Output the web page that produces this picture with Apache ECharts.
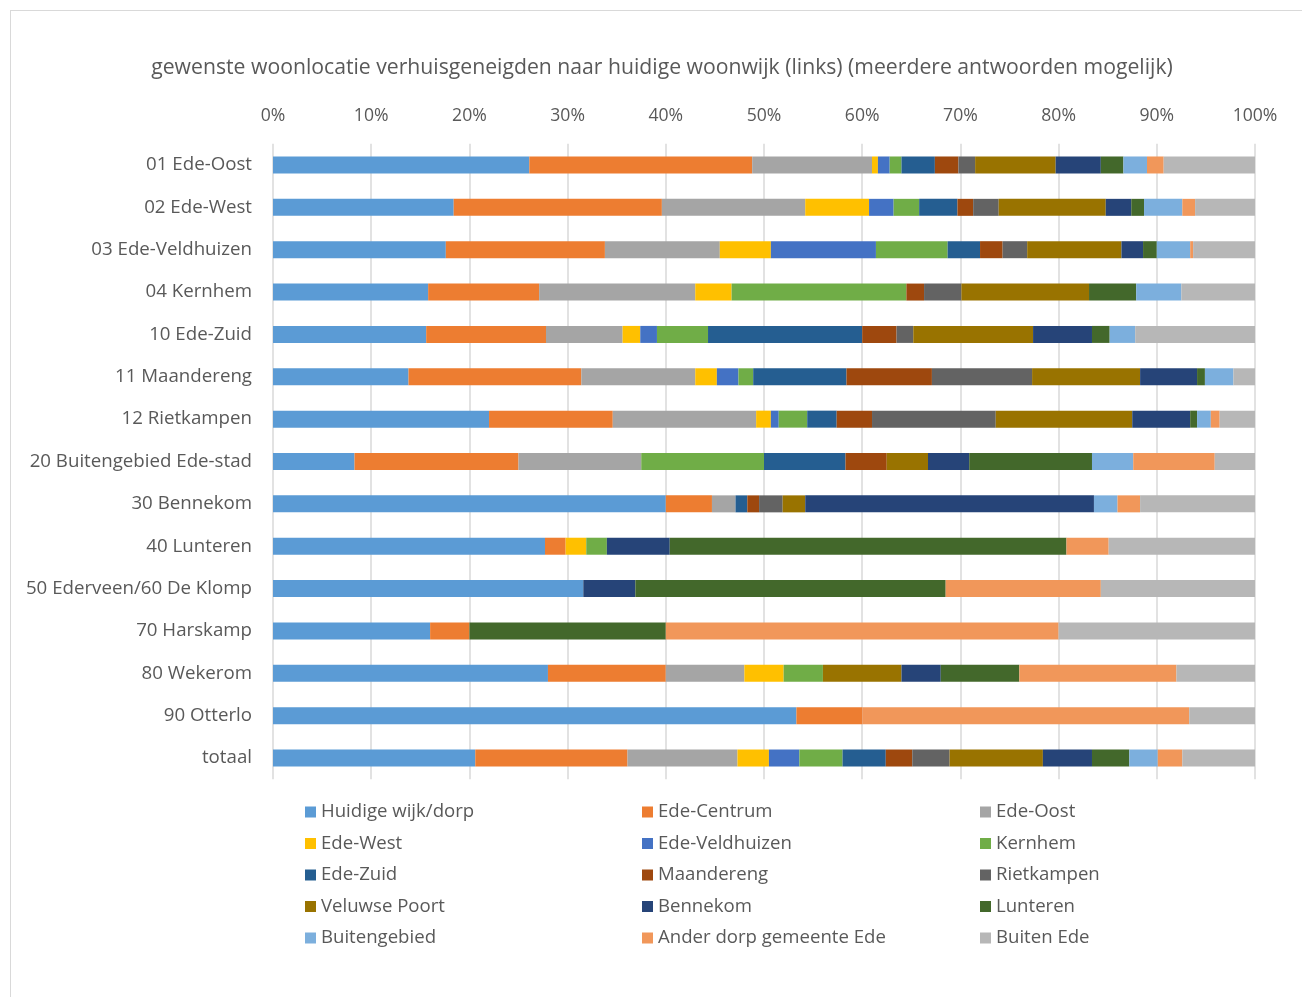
<!DOCTYPE html>
<html>
<head>
<meta charset="utf-8">
<script src="https://cdn.jsdelivr.net/npm/echarts@6/dist/echarts.min.js"></script>
<style>
  html, body { margin: 0; padding: 0; background: #fff; }
  #frame { position: absolute; left: 10px; top: 10px; width: 1300px; height: 1000px; border-left: 1px solid #d9d9d9; border-top: 1px solid #d9d9d9; }
  #chart { position: absolute; left: 0; top: 0; width: 1302px; height: 997px; }
</style>
</head>
<body>
<div id="frame"></div>
<div id="chart"></div>
<script>
const titleText = 'gewenste woonlocatie verhuisgeneigden naar huidige woonwijk (links) (meerdere antwoorden mogelijk)';
const categories = ['01 Ede-Oost','02 Ede-West','03 Ede-Veldhuizen','04 Kernhem','10 Ede-Zuid','11 Maandereng','12 Rietkampen','20 Buitengebied Ede-stad','30 Bennekom','40 Lunteren','50 Ederveen/60 De Klomp','70 Harskamp','80 Wekerom','90 Otterlo','totaal'];
const seriesNames = ['Huidige wijk/dorp','Ede-Centrum','Ede-Oost','Ede-West','Ede-Veldhuizen','Kernhem','Ede-Zuid','Maandereng','Rietkampen','Veluwse Poort','Bennekom','Lunteren','Buitengebied','Ander dorp gemeente Ede','Buiten Ede'];
const seriesColors = ['#5B9BD5','#ED7D31','#A5A5A5','#FFC000','#4472C4','#70AD47','#255E91','#9E480E','#636363','#997300','#264478','#43682B','#7CAFDD','#F1975A','#B7B7B7'];

const huidige      = [26.1,18.4,17.6,15.8,15.6,13.8,22.0, 8.3,40.0,27.7,31.6,16,28,53.3,20.6];
const edeCentrum   = [22.7,21.2,16.2,11.3,12.2,17.6,12.6,16.7, 4.7, 2.1, 0, 4,12, 6.7,15.5];
const edeOost      = [12.2,14.6,11.7,15.9, 7.8,11.6,14.6,12.5, 2.4, 0, 0, 0, 8, 0,11.2];
const edeWest      = [ 0.6, 6.5, 5.2, 3.7, 1.8, 2.2, 1.5, 0, 0, 2.1, 0, 0, 4, 0, 3.2];
const edeVeldhuizen= [ 1.2, 2.5,10.7, 0, 1.7, 2.2, 0.8, 0, 0, 0, 0, 0, 0, 0, 3.1];
const kernhem      = [ 1.2, 2.6, 7.3,17.8, 5.2, 1.5, 2.9,12.5, 0, 2.1, 0, 0, 4, 0, 4.4];
const edeZuid      = [ 3.4, 3.9, 3.3, 0,15.7, 9.5, 3.0, 8.3, 1.2, 0, 0, 0, 0, 0, 4.4];
const maandereng   = [ 2.4, 1.6, 2.3, 1.8, 3.5, 8.7, 3.6, 4.2, 1.2, 0, 0, 0, 0, 0, 2.7];
const rietkampen   = [ 1.7, 2.6, 2.5, 3.8, 1.7,10.2,12.6, 0, 2.4, 0, 0, 0, 0, 0, 3.8];
const veluwsePoort = [ 8.2,10.9, 9.6,13.0,12.2,11.0,13.9, 4.2, 2.3, 0, 0, 0, 8, 0, 9.5];
const bennekom     = [ 4.6, 2.6, 2.2, 0, 6.0, 5.8, 5.9, 4.2,29.4, 6.4, 5.3, 0, 4, 0, 5.0];
const lunteren     = [ 2.3, 1.3, 1.4, 4.8, 1.8, 0.8, 0.7,12.5, 0,40.4,31.6,20, 8, 0, 3.8];
const buitengebied = [ 2.4, 3.9, 3.4, 4.6, 2.6, 2.9, 1.4, 4.2, 2.4, 0, 0, 0, 0, 0, 2.9];
const anderDorp    = [ 1.7, 1.3, 0.3, 0, 0, 0, 0.9, 8.3, 2.3, 4.3,15.8,40,16,33.3, 2.5];
const buitenEde    = [ 9.3, 6.1, 6.3, 7.5,12.2, 2.2, 3.6, 4.1,11.7,14.9,15.7,20, 8, 6.7, 7.4];

const seriesValues = [huidige, edeCentrum, edeOost, edeWest, edeVeldhuizen, kernhem, edeZuid, maandereng, rietkampen, veluwsePoort, bennekom, lunteren, buitengebied, anderDorp, buitenEde];
const xTicks = [0,10,20,30,40,50,60,70,80,90,100];

const FONT = 'Open Sans';
const TXT = '#595959';

const chart = echarts.init(document.getElementById('chart'), null, { renderer: 'canvas' });

const legendCols = [[0,3,6,9,12],[1,4,7,10,13],[2,5,8,11,14]];
const legendLefts = [305, 642, 980];

const option = {
  animation: false,
  color: seriesColors,
  title: {
    text: titleText,
    left: 657,
    top: 52,
    textAlign: 'center',
    textStyle: { fontFamily: FONT, fontSize: 21.2, fontWeight: 'normal', color: TXT }
  },
  legend: legendCols.map((col, i) => ({
    orient: 'vertical',
    left: legendLefts[i],
    top: 802,
    padding: 0,
    itemWidth: 11,
    itemHeight: 11,
    itemGap: 11.5,
    icon: 'rect',
    selectedMode: false,
    data: col.map(k => seriesNames[k]),
    textStyle: { fontFamily: FONT, fontSize: 18.6, color: TXT, lineHeight: 20 }
  })),
  grid: { left: 273, top: 143.8, width: 982, height: 635.4, containLabel: false },
  xAxis: {
    type: 'value',
    position: 'top',
    min: 0, max: 100, interval: 10,
    axisLine: { show: false },
    axisTick: { show: false },
    splitLine: { lineStyle: { color: '#d9d9d9', width: 1.5 } },
    axisLabel: {
      margin: 19,
      fontFamily: FONT, fontSize: 17.6, color: TXT,
      formatter: v => xTicks.includes(v) ? v + '%' : ''
    }
  },
  yAxis: {
    type: 'category',
    inverse: true,
    data: categories,
    axisLine: { show: false },
    axisTick: { show: false },
    axisLabel: { margin: 21, fontFamily: FONT, fontSize: 18.7, color: TXT }
  },
  series: seriesNames.map((name, i) => ({
    name: name,
    type: 'bar',
    stack: 'total',
    barWidth: 17,
    data: seriesValues[i],
    itemStyle: { color: seriesColors[i] }
  }))
};
chart.setOption(option);
</script>
</body>
</html>
